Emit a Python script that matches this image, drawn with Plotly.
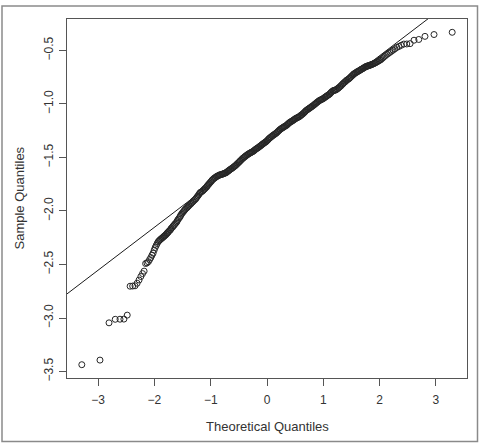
import plotly.graph_objects as go
from statistics import NormalDist

N_OBS = 1000

# ---- data: order statistics (rank in sorted sample) and sample value ----
ranks_low = list(range(1, 41))
sample_low = [-3.436, -3.393, -3.045, -3.012, -3.011, -3.010, -2.973, -2.703, -2.701, -2.699,
              -2.675, -2.645, -2.612, -2.585, -2.562, -2.491, -2.485, -2.474, -2.454, -2.435,
              -2.413, -2.394, -2.366, -2.341, -2.322, -2.304, -2.288, -2.279, -2.271, -2.263,
              -2.257, -2.251, -2.244, -2.238, -2.232, -2.226, -2.219, -2.212, -2.204, -2.199]

ranks_mid = [41, 44, 47, 50, 53, 56, 60, 63, 67, 71, 75, 80, 84, 89, 94, 99, 104, 110, 116, 121,
             128, 134, 141, 147, 154, 162, 169, 177, 185, 193, 201, 210, 218, 227, 236, 246, 255, 265, 275, 285,
             295, 306, 316, 327, 338, 349, 360, 371, 383, 394, 406, 417, 429, 441, 453, 465, 477, 489, 500, 512,
             524, 536, 548, 560, 572, 584, 595, 607, 618, 630, 641, 652, 663, 674, 685, 695, 706, 716, 726, 736,
             746, 755, 765, 774, 783, 791, 800, 808, 816, 824, 832, 839, 847, 854, 860, 867, 873, 880, 885, 891,
             897, 902, 907, 912, 917, 921, 926, 930, 934, 938, 941, 945, 948, 951, 954, 957, 960]
sample_mid = [-2.189, -2.171, -2.152, -2.133, -2.114, -2.090, -2.064, -2.041, -2.017, -1.997,
              -1.978, -1.962, -1.946, -1.930, -1.915, -1.899, -1.883, -1.860, -1.836, -1.823,
              -1.810, -1.795, -1.779, -1.759, -1.741, -1.722, -1.704, -1.691, -1.679, -1.671,
              -1.663, -1.659, -1.654, -1.647, -1.640, -1.627, -1.615, -1.604, -1.592, -1.580,
              -1.566, -1.550, -1.534, -1.519, -1.504, -1.491, -1.479, -1.468, -1.458, -1.450,
              -1.440, -1.428, -1.416, -1.405, -1.393, -1.380, -1.368, -1.357, -1.345, -1.328,
              -1.314, -1.301, -1.289, -1.278, -1.265, -1.249, -1.236, -1.225, -1.215, -1.205,
              -1.193, -1.179, -1.168, -1.158, -1.147, -1.136, -1.128, -1.120, -1.108, -1.096,
              -1.081, -1.065, -1.053, -1.042, -1.031, -1.020, -1.007, -0.994, -0.982, -0.969,
              -0.961, -0.953, -0.942, -0.931, -0.920, -0.909, -0.893, -0.877, -0.873, -0.868,
              -0.855, -0.842, -0.827, -0.811, -0.796, -0.783, -0.770, -0.757, -0.741, -0.726,
              -0.715, -0.704, -0.695, -0.685, -0.675, -0.666, -0.657]

ranks_mid_b = [43, 45, 48, 51, 55, 58, 62, 65, 69, 73, 78, 82, 87, 91, 96, 102, 107, 113, 118, 125,
               131, 137, 144, 151, 158, 165, 173, 181, 189, 197, 205, 214, 223, 232, 241, 250, 260, 270, 280, 290,
               300, 311, 321, 332, 343, 354, 365, 377, 388, 400, 411, 423, 435, 447, 459, 471, 483, 494,
               507, 518, 530, 542, 554, 566, 578, 590, 601, 613, 624, 636, 647, 658, 669, 680, 690, 701,
               711, 721, 731, 741, 751, 760, 769, 778, 787, 796, 804, 812, 820, 828, 836, 843, 850, 857,
               864, 870, 876, 883, 888, 894, 899, 905, 910, 914, 919, 923, 928, 932, 936, 939, 943, 946,
               950, 953, 956, 958]
sample_mid_b = [-2.180, -2.161, -2.142, -2.123, -2.102, -2.077, -2.052, -2.028, -2.007, -1.988,
                -1.970, -1.954, -1.938, -1.923, -1.907, -1.891, -1.871, -1.848, -1.829, -1.817,
                -1.802, -1.787, -1.769, -1.750, -1.731, -1.712, -1.697, -1.685, -1.675, -1.667,
                -1.661, -1.656, -1.650, -1.644, -1.633, -1.621, -1.609, -1.598, -1.586, -1.573,
                -1.558, -1.542, -1.527, -1.511, -1.498, -1.485, -1.474, -1.463, -1.454, -1.446,
                -1.434, -1.421, -1.411, -1.399, -1.387, -1.374, -1.363, -1.352,
                -1.336, -1.320, -1.308, -1.295, -1.284, -1.273, -1.257, -1.242, -1.230, -1.220,
                -1.210, -1.200, -1.186, -1.172, -1.163, -1.153, -1.142, -1.132,
                -1.124, -1.115, -1.102, -1.088, -1.073, -1.058, -1.047, -1.036, -1.025, -1.013,
                -1.001, -0.988, -0.975, -0.965, -0.957, -0.948, -0.936, -0.925,
                -0.915, -0.901, -0.885, -0.875, -0.870, -0.861, -0.849, -0.834, -0.818, -0.804,
                -0.789, -0.776, -0.764, -0.749, -0.733, -0.720, -0.709, -0.699,
                -0.690, -0.680, -0.671, -0.661]

ranks_high = list(range(961, 1001))
sample_high = [-0.651, -0.649, -0.647, -0.645, -0.643, -0.641, -0.638, -0.635, -0.632, -0.629,
               -0.626, -0.622, -0.618, -0.613, -0.609, -0.603, -0.597, -0.592, -0.586, -0.576,
               -0.567, -0.557, -0.547, -0.537, -0.528, -0.518, -0.508, -0.497, -0.485, -0.472,
               -0.463, -0.452, -0.441, -0.440, -0.437, -0.405, -0.398, -0.369, -0.352, -0.331]

# reference line (qqline)
qq_intercept = -1.351
qq_slope = 0.4006

x_ticks = [-3, -2, -1, 0, 1, 2, 3]
y_ticks = [-3.5, -3.0, -2.5, -2.0, -1.5, -1.0, -0.5]

# ---- build ----
ranks = ranks_low + ranks_mid + ranks_mid_b + ranks_high
sample = sample_low + sample_mid + sample_mid_b + sample_high
assert len(ranks_mid) == len(sample_mid) and len(ranks_mid_b) == len(sample_mid_b)
assert len(ranks) == len(sample)
nd = NormalDist()
theoretical = [nd.inv_cdf((r - 0.5) / N_OBS) for r in ranks]

def padded(vals, f=0.04):
    lo, hi = min(vals), max(vals)
    d = (hi - lo) * f
    return [lo - d, hi + d]

x_range = padded([nd.inv_cdf(0.5 / N_OBS), nd.inv_cdf(1 - 0.5 / N_OBS)])
y_range = padded(sample)

FONT = "Liberation Sans, Arial, sans-serif"
INK = "#333333"
AX = "#555555"

fig = go.Figure()
fig.add_trace(go.Scatter(
    x=[x_range[0] - 1, x_range[1] + 1],
    y=[qq_intercept + qq_slope * (x_range[0] - 1), qq_intercept + qq_slope * (x_range[1] + 1)],
    mode="lines", line=dict(color="#1a1a1a", width=1), hoverinfo="skip", showlegend=False))
fig.add_trace(go.Scatter(
    x=theoretical, y=sample, mode="markers",
    marker=dict(symbol="circle-open", size=6, color="#262626", line=dict(width=1)),
    showlegend=False, cliponaxis=True))

L, R, T, B = 67, 15, 19, 66
W, H = 482, 444
pw, ph = W - L - R, H - T - B

fig.update_layout(
    width=W, height=H,
    margin=dict(l=L, r=R, t=T, b=B, pad=0),
    paper_bgcolor="white", plot_bgcolor="white",
    font=dict(family=FONT, size=12, color=INK),
    showlegend=False,
)
fig.update_xaxes(
    range=x_range, tickvals=x_ticks, ticktext=[("\u2212" + str(-v)) if v < 0 else str(v) for v in x_ticks],
    ticks="outside", ticklen=7, tickwidth=1, tickcolor=AX,
    showline=True, mirror=True, linecolor=AX, linewidth=1,
    showgrid=False, zeroline=False, ticklabelstandoff=4,
    tickfont=dict(family=FONT, size=12, color=INK),
)
fig.update_yaxes(
    range=y_range, tickvals=y_ticks, ticktext=["\u2212%.1f" % (-v) for v in y_ticks],
    ticks="outside", ticklen=7, tickwidth=1, tickcolor=AX, tickangle=-90,
    showline=True, mirror=True, linecolor=AX, linewidth=1,
    showgrid=False, zeroline=False, ticklabelstandoff=1,
    tickfont=dict(family=FONT, size=12, color=INK),
)

def px_x(p):
    return (p - L) / pw

def px_y(p):
    return (H - B - p) / ph

fig.add_annotation(text="Theoretical Quantiles", xref="paper", yref="paper",
                   x=0.5, y=px_y(426), xanchor="center", yanchor="middle",
                   showarrow=False, font=dict(family=FONT, size=13, color=INK))
fig.add_annotation(text="Sample Quantiles", xref="paper", yref="paper",
                   x=px_x(19), y=0.5, xanchor="center", yanchor="middle", textangle=-90,
                   showarrow=False, font=dict(family=FONT, size=13, color=INK))

# outer frame of the figure
fig.add_shape(type="rect", xref="paper", yref="paper",
              x0=px_x(2), x1=px_x(477.5), y0=px_y(441.5), y1=px_y(6),
              line=dict(color="#8a8a8a", width=1.5), fillcolor="rgba(0,0,0,0)", layer="below")

fig.write_html("out.html")
